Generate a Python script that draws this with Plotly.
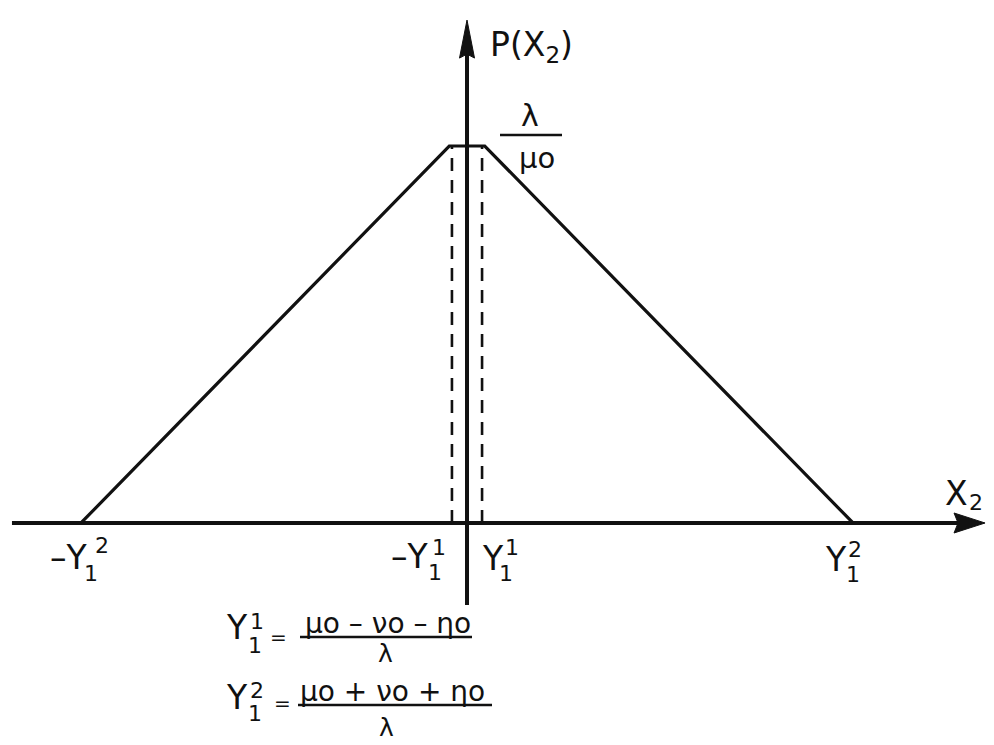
import plotly.graph_objects as go

# Trapezoidal density P(X2): rises from -Y1^2 to a flat top of height lambda/mu0
# around the origin, and falls back to zero at +Y1^2.
x_break = [-5.0, -0.23, 0.23, 5.0]      # -Y1^2, plateau start, plateau end, Y1^2
p_break = [0.0, 1.0, 1.0, 0.0]          # P(X2) at those points (peak = lambda/mu0)
y11_guides = [-0.195, 0.195]            # dashed guides at -Y1^1 and Y1^1
peak = 1.0

# axis extents (data units)
x_axis_from, x_axis_tip = -5.894, 6.71
y_axis_from, y_axis_tip = -0.2175, 1.334
x_range = [-6.049, 6.826]
y_range = [-0.5889, 1.3873]

W, H = 994, 745
INK = "#111111"
FONT = "DejaVu Sans"

# pixels per data unit (plot area spans the whole page)
sx = W / (x_range[1] - x_range[0])
sy = H / (y_range[1] - y_range[0])

fig = go.Figure()

# horizontal axis shaft
fig.add_trace(go.Scatter(x=[x_axis_from, x_axis_tip - 26 / sx], y=[0, 0], mode="lines",
                         line=dict(color=INK, width=4), hoverinfo="skip"))
# vertical axis shaft
fig.add_trace(go.Scatter(x=[0, 0], y=[y_axis_from, y_axis_tip - 34 / sy], mode="lines",
                         line=dict(color=INK, width=4), hoverinfo="skip"))

# arrow heads
hx_len, hx_half = 31 / sx, 10 / sy
fig.add_trace(go.Scatter(
    x=[x_axis_tip, x_axis_tip - hx_len, x_axis_tip - hx_len + 4 / sx, x_axis_tip - hx_len, x_axis_tip],
    y=[0, hx_half, 0, -hx_half, 0],
    mode="lines", fill="toself", fillcolor=INK, line=dict(color=INK, width=1), hoverinfo="skip"))
hy_len, hy_half = 38 / sy, 7.5 / sx
fig.add_trace(go.Scatter(
    x=[0, hy_half, 0, -hy_half, 0],
    y=[y_axis_tip, y_axis_tip - hy_len, y_axis_tip - hy_len + 4 / sy, y_axis_tip - hy_len, y_axis_tip],
    mode="lines", fill="toself", fillcolor=INK, line=dict(color=INK, width=1), hoverinfo="skip"))

# dashed guides from the plateau down to the axis
for gx in y11_guides:
    fig.add_trace(go.Scatter(x=[gx, gx], y=[0, peak], mode="lines",
                             line=dict(color=INK, width=2.6, dash="13px,9px"), hoverinfo="skip"))

# the density itself
fig.add_trace(go.Scatter(x=x_break, y=p_break, mode="lines",
                         line=dict(color=INK, width=3.2), hoverinfo="skip"))


def label(text, x, y, size, xanchor="center", yanchor="middle"):
    fig.add_annotation(text=text, x=x / W, y=1 - y / H, xref="paper", yref="paper",
                       xanchor=xanchor, yanchor=yanchor, showarrow=False,
                       font=dict(family=FONT, size=size, color=INK))


def bar(x0, x1, y, width=2.5):
    fig.add_shape(type="line", xref="paper", yref="paper",
                  x0=x0 / W, x1=x1 / W, y0=1 - y / H, y1=1 - y / H,
                  line=dict(color=INK, width=width))


BIG, SCRIPT = 33, 22

# y-axis title and peak value
label("P(X<sub>2</sub>)", 488, 47, BIG, xanchor="left")
label("λ", 530, 116, 30)
bar(500, 562, 135)
label("μo", 537, 158, 29)

# x-axis title
label("X", 956, 493, BIG)
label("2", 967, 503, SCRIPT, xanchor="left")

# tick labels: -Y1^2, -Y1^1, Y1^1, Y1^2
label("–Y", 90, 557, BIG, xanchor="right")
label("2", 93, 545, SCRIPT, xanchor="left")
label("1", 82, 573, SCRIPT, xanchor="left")

label("–Y", 431, 556, BIG, xanchor="right")
label("1", 430, 547, SCRIPT, xanchor="left")
label("1", 426, 572, SCRIPT, xanchor="left")

label("Y", 493, 558, BIG)
label("1", 503, 547, SCRIPT, xanchor="left")
label("1", 497, 573, SCRIPT, xanchor="left")

label("Y", 836, 559, BIG)
label("2", 846, 549, SCRIPT, xanchor="left")
label("1", 844, 574, SCRIPT, xanchor="left")

# definitions of the break points
label("Y", 237, 627, BIG)
label("1", 248, 621, SCRIPT, xanchor="left")
label("1", 246, 645, SCRIPT, xanchor="left")
label("=", 278, 637, 20)
label("μo – νo – ηo", 388, 623, 28)
bar(300, 472, 637)
label("λ", 385, 653, 25)

label("Y", 237, 697, BIG)
label("2", 248, 690, SCRIPT, xanchor="left")
label("1", 246, 713, SCRIPT, xanchor="left")
label("=", 282, 703, 20)
label("μo + νo + ηo", 392, 691, 28)
bar(298, 492, 705)
label("λ", 386, 727, 25)

fig.update_layout(
    width=W, height=H, margin=dict(l=0, r=0, t=0, b=0),
    paper_bgcolor="white", plot_bgcolor="white", showlegend=False,
    xaxis=dict(range=x_range, visible=False, fixedrange=True),
    yaxis=dict(range=y_range, visible=False, fixedrange=True),
)

fig.write_html("out.html")
